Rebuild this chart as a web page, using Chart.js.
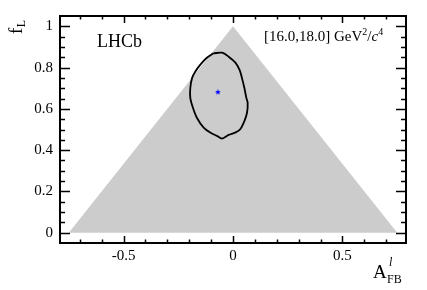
<!DOCTYPE html>
<html lang="en">
<head>
<meta charset="UTF-8">
<title>LHCb fL vs AFB</title>
<script src="https://cdn.jsdelivr.net/npm/chart.js@4.4.0/dist/chart.umd.min.js"></script>
<style>
  html, body { margin: 0; padding: 0; background: #fff; }
  #wrap { width: 427px; height: 290px; }
</style>
</head>
<body>
<div id="wrap"><canvas id="chart" width="427" height="290"></canvas></div>
<script>
// axis ticks
const xTickValues = [-0.5, 0, 0.5];
const xTickLabels = ['-0.5', '0', '0.5'];
const yTickValues = [0, 0.2, 0.4, 0.6, 0.8, 1];
const yTickLabels = ['0', '0.2', '0.4', '0.6', '0.8', '1'];

// physical region (triangle)
const regionX = [-0.75, 0, 0.75];
const regionY = [0, 1, 0];

// confidence contour
const contourX = [-0.089, -0.050, -0.020, 0.010, 0.030, 0.041, 0.052, 0.061, 0.067, 0.064, 0.052, 0.033, 0.010,
                  -0.020, -0.050, -0.073, -0.104, -0.134, -0.165, -0.183, -0.195, -0.195, -0.187, -0.172, -0.150, -0.122, -0.089];
const contourY = [0.869, 0.872, 0.853, 0.825, 0.789, 0.749, 0.701, 0.653, 0.629, 0.581, 0.541, 0.501, 0.485,
                  0.474, 0.456, 0.469, 0.485, 0.509, 0.557, 0.605, 0.653, 0.701, 0.749, 0.781, 0.813, 0.845, 0.869];

// best fit point
const bestX = [-0.069];
const bestY = [0.681];

const serif = '"Liberation Serif", "DejaVu Serif", serif';

function starImg(size, color) {
  const c = document.createElement('canvas');
  c.width = c.height = size;
  const g = c.getContext('2d');
  g.fillStyle = color;
  g.beginPath();
  for (let i = 0; i < 10; i++) {
    const r = i % 2 ? size * 0.22 : size * 0.5;
    const a = -Math.PI / 2 + i * Math.PI / 5;
    g.lineTo(size / 2 + r * Math.cos(a), size / 2 + r * Math.sin(a));
  }
  g.closePath();
  g.fill();
  return c;
}

const toPts = (xs, ys) => xs.map((v, i) => ({x: v, y: ys[i]}));

// frame, inward ticks and text labels
const decor = {
  id: 'decor',
  afterDatasetsDraw(chart) {
    const {ctx, chartArea: a, scales: {x, y}} = chart;
    ctx.save();
    ctx.strokeStyle = '#000';
    ctx.lineWidth = 1.5;
    ctx.beginPath();
    for (let k = -7; k <= 7; k++) {
      const px = Math.round(x.getPixelForValue(k / 10)) + 0.5;
      const len = k % 5 === 0 ? 7 : 3.5;
      ctx.moveTo(px, a.bottom); ctx.lineTo(px, a.bottom - len);
      ctx.moveTo(px, a.top); ctx.lineTo(px, a.top + len);
    }
    for (let k = 0; k <= 20; k++) {
      const py = Math.round(y.getPixelForValue(k * 0.05)) + 0.5;
      const len = k % 4 === 0 ? 10 : 5;
      ctx.moveTo(a.left, py); ctx.lineTo(a.left + len, py);
      ctx.moveTo(a.right, py); ctx.lineTo(a.right - len, py);
    }
    ctx.stroke();
    ctx.lineWidth = 2;
    ctx.strokeRect(a.left, a.top, a.right - a.left, a.bottom - a.top);

    ctx.fillStyle = '#000';
    ctx.textBaseline = 'alphabetic';
    // LHCb
    ctx.font = '18px ' + serif;
    ctx.textAlign = 'left';
    ctx.fillText('LHCb', 97, 47);

    // q2 range
    let tx = 264;
    const by = 41;
    ctx.font = '15px ' + serif;
    ctx.fillText('[16.0,18.0] GeV', tx, by);
    tx += ctx.measureText('[16.0,18.0] GeV').width;
    ctx.font = '10px ' + serif;
    ctx.fillText('2', tx, by - 6);
    tx += ctx.measureText('2').width;
    ctx.font = '15px ' + serif;
    ctx.fillText('/', tx, by);
    tx += ctx.measureText('/').width;
    ctx.font = 'italic 15px ' + serif;
    ctx.fillText('c', tx, by);
    tx += ctx.measureText('c').width;
    ctx.font = '10px ' + serif;
    ctx.fillText('4', tx, by - 6);

    // x title A^l_FB
    ctx.font = '19px ' + serif;
    ctx.fillText('A', 373, 278);
    ctx.font = 'italic 12px ' + serif;
    ctx.fillText('l', 389, 266);
    ctx.font = '12px ' + serif;
    ctx.fillText('FB', 387, 283);

    // y title f_L
    ctx.translate(22, 34);
    ctx.rotate(-Math.PI / 2);
    ctx.font = '19px ' + serif;
    ctx.fillText('f', 0, 0);
    const fw = ctx.measureText('f').width;
    ctx.font = '12px ' + serif;
    ctx.fillText('L', fw + 0.5, 3);
    ctx.restore();
  }
};

new Chart(document.getElementById('chart').getContext('2d'), {
  type: 'scatter',
  data: {
    datasets: [
      {
        data: toPts(regionX, regionY),
        showLine: true,
        fill: 'origin',
        backgroundColor: '#cccccc',
        borderColor: '#cccccc',
        borderWidth: 0,
        pointRadius: 0,
        tension: 0,
        order: 3
      },
      {
        data: toPts(contourX, contourY),
        showLine: true,
        fill: false,
        borderColor: '#000000',
        borderWidth: 1.8,
        pointRadius: 0,
        tension: 0.3,
        order: 2
      },
      {
        data: toPts(bestX, bestY),
        pointStyle: starImg(6, '#0000ff'),
        pointRadius: 3,
        order: 1
      }
    ]
  },
  options: {
    responsive: false,
    animation: false,
    devicePixelRatio: 1,
    layout: { padding: { top: 14, right: 21, left: 0, bottom: 0 } },
    plugins: { legend: { display: false }, tooltip: { enabled: false } },
    scales: {
      x: {
        type: 'linear',
        min: -0.79,
        max: 0.79,
        grid: { display: false, drawTicks: false },
        border: { display: false },
        afterBuildTicks: s => { s.ticks = xTickValues.map(v => ({value: v})); },
        afterFit: s => { s.height = 47; },
        ticks: {
          padding: 4,
          color: '#000',
          font: { family: serif, size: 15 },
          maxRotation: 0,
          callback: (v, i) => xTickLabels[i]
        }
      },
      y: {
        type: 'linear',
        min: -0.05,
        max: 1.05,
        grid: { display: false, drawTicks: false },
        border: { display: false },
        afterBuildTicks: s => { s.ticks = yTickValues.map(v => ({value: v})); },
        afterFit: s => { s.width = 60; },
        ticks: {
          padding: 7,
          color: '#000',
          font: { family: serif, size: 15 },
          callback: (v, i) => yTickLabels[i]
        }
      }
    }
  },
  plugins: [decor]
});
</script>
</body>
</html>
